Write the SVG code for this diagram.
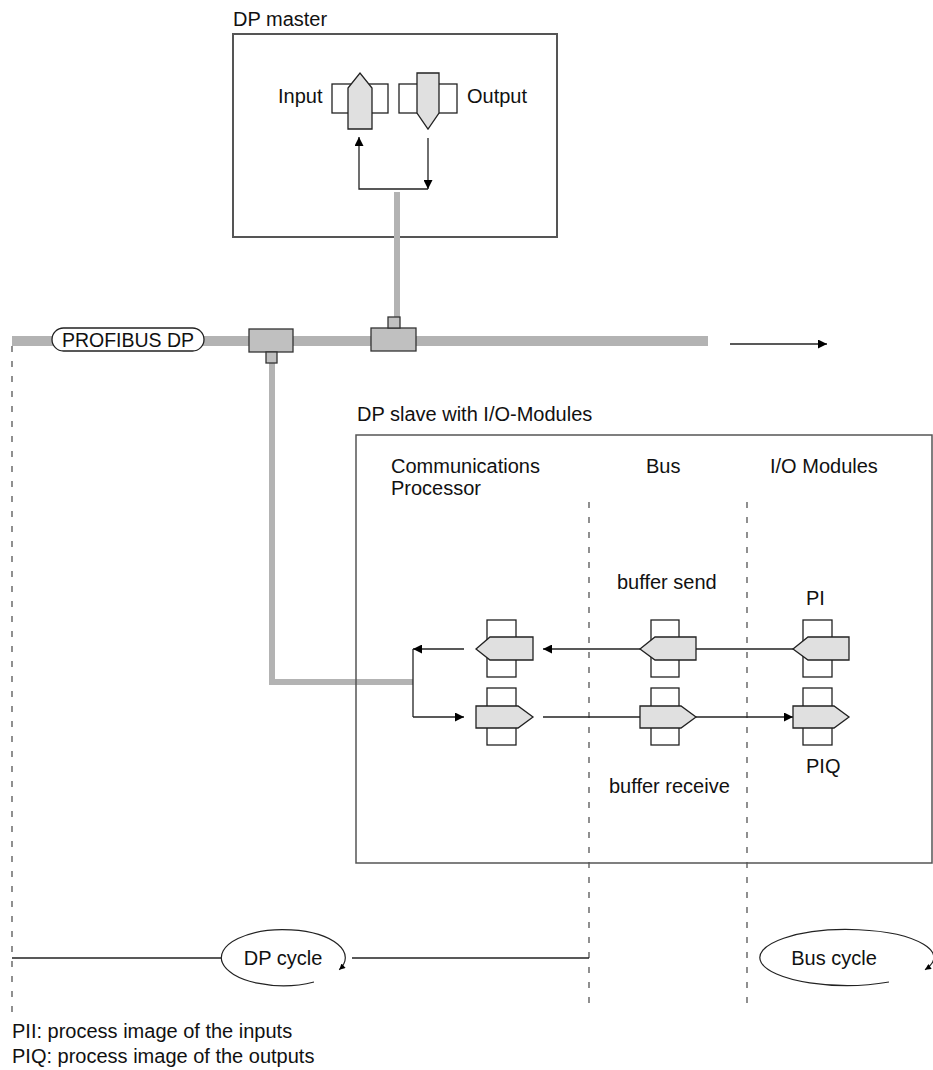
<svg xmlns="http://www.w3.org/2000/svg" width="933" height="1070" viewBox="0 0 933 1070">
<defs>
<marker id="ah" viewBox="0 0 10 10" refX="10" refY="5" markerWidth="11" markerHeight="9" markerUnits="userSpaceOnUse" orient="auto"><path d="M0,0 L10,5 L0,10 z" fill="#000"/></marker>
<marker id="ahs" viewBox="0 0 10 10" refX="10" refY="5" markerWidth="7" markerHeight="6" markerUnits="userSpaceOnUse" orient="auto"><path d="M0,0 L10,5 L0,10 z" fill="#000"/></marker>
</defs>
<style>
text{font-family:"Liberation Sans",Arial,sans-serif;font-size:20px;fill:#111}
.box{fill:#fff;stroke:#555;stroke-width:2}
.reg{fill:#fff;stroke:#222;stroke-width:1.3}
.arr{fill:#e0e0e0;stroke:#222;stroke-width:1.3}
.tc{fill:#c0c0c0;stroke:#333;stroke-width:1.3}
.gray{stroke:#b3b3b3;fill:none}
.ln{stroke:#222;stroke-width:1.3;fill:none}
.dash{stroke:#555;stroke-width:1.3;stroke-dasharray:6 9;fill:none}
.cyc{stroke:#222;stroke-width:1.2;fill:none}
</style>
<rect width="933" height="1070" fill="#fff"/>

<g id="dashes">
<line class="dash" x1="12" y1="346" x2="12" y2="1015"/>
<line class="dash" x1="589" y1="502" x2="589" y2="1003"/>
<line class="dash" x1="747" y1="502" x2="747" y2="1003"/>
</g>

<g id="dp-master">
<rect class="box" x="233" y="34" width="324" height="203"/>
<text x="233" y="26">DP master</text>
<rect class="reg" x="332" y="84" width="56" height="29"/>
<polygon class="arr" points="348,129 348,88 360,73 372,88 372,129"/>
<text x="278" y="103">Input</text>
<rect class="reg" x="399" y="84" width="58" height="29"/>
<polygon class="arr" points="417,73 439,73 439,113 428,129 417,113"/>
<text x="467" y="103">Output</text>
</g>

<g id="connectors">
<line class="gray" x1="397" y1="192" x2="397" y2="317" stroke-width="6"/>
<line class="gray" x1="12" y1="341" x2="708" y2="341" stroke-width="10"/>
<path class="gray" d="M272,363 V682 H413" stroke-width="6"/>
<rect class="tc" x="371" y="328" width="45" height="23"/>
<rect class="tc" x="388" y="317" width="12" height="11"/>
<rect class="tc" x="249" y="329" width="44" height="23"/>
<rect class="tc" x="266" y="352" width="11" height="11"/>
<line class="ln" x1="730" y1="344" x2="827" y2="344" marker-end="url(#ah)"/>
<line class="ln" x1="428" y1="138" x2="428" y2="189" marker-end="url(#ah)"/>
<path class="ln" d="M428,189 H359 V137" marker-end="url(#ah)"/>
<line class="ln" x1="413" y1="649" x2="413" y2="717"/>
<line class="ln" x1="464" y1="649" x2="413" y2="649" marker-end="url(#ah)"/>
<line class="ln" x1="413" y1="717" x2="464" y2="717" marker-end="url(#ah)"/>
<line class="ln" x1="640" y1="649" x2="543" y2="649" marker-end="url(#ah)"/>
<line class="ln" x1="793" y1="649" x2="696" y2="649"/>
<line class="ln" x1="543" y1="717" x2="640" y2="717"/>
<line class="ln" x1="696" y1="717" x2="793" y2="717" marker-end="url(#ah)"/>
<line class="ln" x1="12" y1="958" x2="221" y2="958"/>
<line class="ln" x1="352" y1="958" x2="589" y2="958"/>
</g>

<g id="profibus-label">
<rect x="52" y="328" width="152" height="23" rx="11.5" fill="#fff" stroke="#222" stroke-width="1.3"/>
<text x="128" y="347" text-anchor="middle" style="font-size:19.5px">PROFIBUS DP</text>
</g>

<g id="dp-slave">
<rect class="box" x="356" y="435" width="576" height="428" style="stroke-width:1.5;fill:none"/>
<text x="357" y="421">DP slave with I/O-Modules</text>
<text x="391" y="473">Communications</text>
<text x="391" y="495">Processor</text>
<text x="646" y="473">Bus</text>
<text x="770" y="473">I/O Modules</text>
<text x="617" y="589">buffer send</text>
<text x="806" y="605">PI</text>
<text x="806" y="773">PIQ</text>
<text x="609" y="793">buffer receive</text>
</g>

<g id="cp-send"><rect class="reg" x="487" y="620" width="29" height="57"/><polygon class="arr" points="476,649 490,637 533,637 533,660 490,660"/></g>
<g id="cp-receive"><rect class="reg" x="487" y="688" width="29" height="57"/><polygon class="arr" points="476,706 518,706 533,717 518,728 476,728"/></g>
<g id="bus-send"><rect class="reg" x="651" y="620" width="28" height="57"/><polygon class="arr" points="640,649 655,637 696,637 696,660 655,660"/></g>
<g id="bus-receive"><rect class="reg" x="651" y="688" width="28" height="57"/><polygon class="arr" points="640,706 681,706 696,717 681,728 640,728"/></g>
<g id="pi"><rect class="reg" x="803" y="620" width="29" height="57"/><polygon class="arr" points="793,649 808,637 849,637 849,660 808,660"/></g>
<g id="piq"><rect class="reg" x="803" y="688" width="29" height="57"/><polygon class="arr" points="793,706 834,706 849,717 834,728 793,728"/></g>

<g id="dp-cycle">
<path class="cyc" d="M314,982 A62,28 0 1 1 339.2,969.8" marker-end="url(#ahs)"/>
<text x="283" y="965" text-anchor="middle">DP cycle</text>
</g>
<g id="bus-cycle">
<path class="cyc" d="M889,982 A87,28 0 1 1 925,969.8" marker-end="url(#ahs)"/>
<text x="834" y="965" text-anchor="middle">Bus cycle</text>
</g>

<g id="legend">
<text x="12" y="1038">PII: process image of the inputs</text>
<text x="12" y="1063">PIQ: process image of the outputs</text>
</g>
</svg>
